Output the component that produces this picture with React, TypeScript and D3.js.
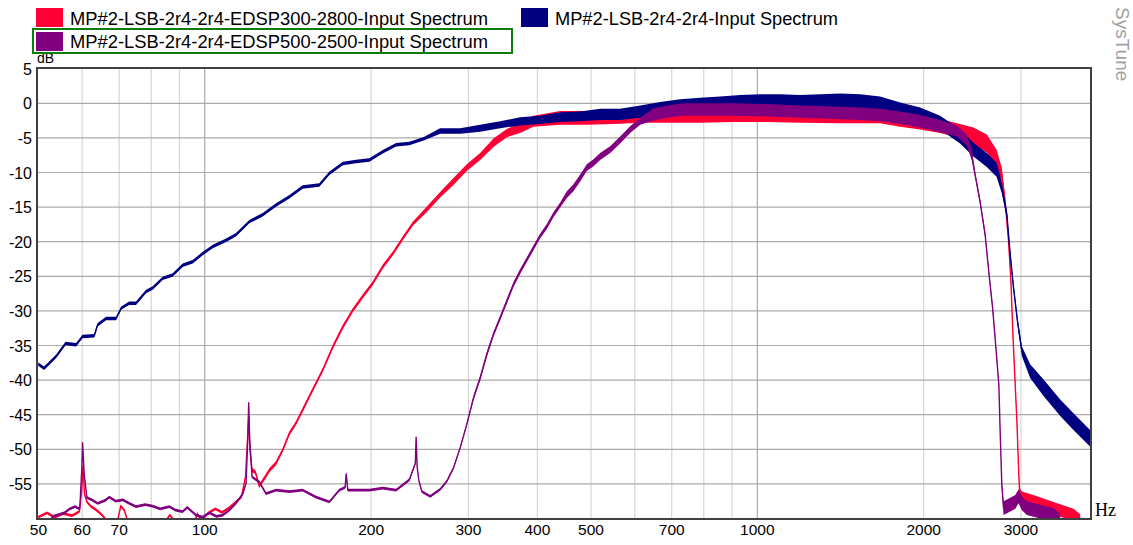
import React from 'react';
import * as d3 from 'd3';

const W = 1133;
const H = 545;

// ---- tick data ----
const yTicks = [5, 0, -5, -10, -15, -20, -25, -30, -35, -40, -45, -50, -55];
const xTickLabels = [50, 60, 70, 100, 200, 300, 400, 500, 700, 1000, 2000, 3000];
const xGridMinor = [60, 70, 80, 90, 200, 300, 400, 500, 600, 700, 800, 900, 2000, 3000];
const xGridMajor = [100, 1000];

// ---- series: MP#2-LSB-2r4-2r4-Input Spectrum (navy) ----
const blueF = [50, 51.2, 53.8, 56.0, 58.5, 60.1, 63.1, 64.0, 66.3, 69.1, 70.6, 73.0, 75.1, 78.3, 80.5, 83.9, 87.5, 91.2, 95.1, 99.2,
  103.4, 109.3, 113.9, 120.4, 127.3, 134.6, 142.3, 150.4, 161.2, 168.1, 177.8, 187.9, 198.6, 210.0, 222.0, 234.6, 249.7, 266.7, 289.9, 315.1,
  342.5, 372.2, 404.5, 439.8, 478.0, 519.5, 564.6, 613.9, 667.2, 725.2, 788.5, 857.0, 931.3, 1012, 1100, 1196, 1300, 1413, 1535, 1668,
  1813, 1971, 2142, 2328, 2461, 2602, 2710, 2770, 2829, 2869, 2909, 2957, 3011, 3117, 3296, 3533, 3734, 4000];
const blueDb = [-37.7, -38.3, -36.6, -34.7, -34.9, -33.7, -33.6, -32.0, -31.1, -31.1,
  -29.6, -28.9, -28.9, -27.2, -26.7, -25.3, -24.8, -23.4, -22.9, -21.7,
  -20.7, -19.8, -19.0, -17.1, -16.1, -14.7, -13.5, -12.1, -11.8, -10.1,
  -8.7, -8.4, -8.2, -7.0, -6.0, -5.8, -5.1, -4.0, -4.0, -3.6,
  -3.1, -2.6, -2.4, -2.0, -1.9, -1.6, -1.6, -1.2, -0.7, -0.4,
  -0.2, 0.0, 0.2, 0.3, 0.3, 0.2, 0.3, 0.4, 0.3, 0.0,
  -0.9, -1.6, -2.8, -4.8, -6.7, -8.2, -9.6, -12.2, -16.1, -21.9,
  -26.7, -31.5, -35.8, -38.7, -41.1, -44.0, -46.0, -48.4];
const blueSpread = [0.25, 0.25, 0.25, 0.25, 0.25, 0.25, 0.25, 0.25, 0.25, 0.25,
  0.25, 0.25, 0.25, 0.25, 0.25, 0.25, 0.25, 0.25, 0.25, 0.25,
  0.25, 0.25, 0.25, 0.25, 0.25, 0.25, 0.25, 0.25, 0.25, 0.25,
  0.25, 0.25, 0.25, 0.25, 0.25, 0.25, 0.25, 0.4, 0.4, 0.5,
  0.5, 0.6, 0.6, 0.7, 0.7, 0.8, 0.8, 0.9, 0.9, 1.0,
  1.0, 1.0, 1.0, 1.0, 1.0, 1.0, 1.0, 1.0, 1.0, 1.0,
  1.0, 1.0, 1.0, 1.0, 1.0, 1.0, 1.0, 0.8, 0.6, 0.5,
  0.5, 0.5, 0.7, 1.0, 1.2, 1.2, 1.2, 1.2];

// ---- series: EDSP300-2800 (red) ----
const redF = [50, 51.8, 53.5, 55.5, 57.5, 59.3, 59.9, 60.2, 60.6, 61.2,
  62.3, 63.5, 65.0, 66.5, 69.5, 70.5, 71.5, 72.5, 85.0, 86.5,
  88.0, 96.0, 97.0, 98.5, 101.5, 104.5, 107.5, 110.5, 113.9, 116.5,
  118.5, 119.6, 120.1, 120.7, 121.8, 123.5, 125.5, 127.5, 131.0, 134.6,
  138.4, 142.3, 146.3, 150.4, 156.8, 163.6, 170.5, 177.8, 185.3, 193.2,
  201.4, 210.0, 219.0, 228.3, 238.0, 252.3, 266.7, 281.9, 298.0, 315.1,
  333.0, 352.1, 372.2, 393.4, 439.8, 491.4, 549.2, 613.9, 686.0, 788.5,
  905.8, 1041, 1196, 1413, 1668, 1813, 1971, 2142, 2328, 2461,
  2602, 2710, 2770, 2809, 2849, 2877, 2901, 2929, 2950, 2970,
  2983, 3011, 3160, 3436, 3734, 3840];
const redDb = [-59.8, -59.2, -59.8, -59.3, -59.6, -59.0, -56.0, -52.4, -56.5, -57.6,
  -58.3, -58.7, -59.4, -60.3, -60.3, -58.2, -58.8, -60.3, -60.3, -59.5,
  -60.3, -60.3, -59.3, -60.3, -59.2, -58.6, -59.1, -58.5, -57.6, -56.9,
  -54.0, -48.0, -45.3, -50.0, -53.0, -53.3, -55.3, -54.5, -53.0, -52.0,
  -50.1, -47.7, -46.2, -44.3, -41.4, -38.5, -35.2, -32.3, -29.9, -27.9,
  -26.0, -23.6, -21.7, -19.5, -17.4, -15.3, -13.2, -11.3, -9.3, -7.7,
  -5.7, -4.3, -3.6, -2.6, -2.1, -2.1, -2.0, -1.8, -1.8, -1.8,
  -1.7, -1.7, -1.8, -1.9, -1.9, -2.4, -2.8, -3.3, -4.0, -4.7,
  -5.8, -8.0, -10.3, -14.2, -19.9, -25.7, -33.4, -40.7, -46.0, -52.7,
  -56.1, -57.0, -57.5, -58.5, -59.5, -60.3];
const redSpread = [0.2, 0.2, 0.2, 0.2, 0.2, 0.2, 0.2, 0.2, 0.2, 0.2,
  0.2, 0.2, 0.2, 0.2, 0.2, 0.2, 0.2, 0.2, 0.2, 0.2,
  0.2, 0.2, 0.2, 0.2, 0.2, 0.2, 0.2, 0.2, 0.2, 0.2,
  0.2, 0.2, 0.2, 0.2, 0.3, 0.3, 0.3, 0.3, 0.3, 0.3,
  0.3, 0.3, 0.3, 0.3, 0.3, 0.3, 0.3, 0.3, 0.3, 0.3,
  0.3, 0.3, 0.3, 0.3, 0.3, 0.4, 0.4, 0.5, 0.5, 0.5,
  0.6, 0.6, 0.7, 0.8, 1.0, 1.0, 1.0, 1.0, 1.0, 1.0,
  1.0, 1.0, 1.0, 1.0, 1.0, 1.0, 1.0, 1.0, 1.0, 1.2,
  1.3, 1.3, 1.0, 0.5, 0.5, 0.5, 0.5, 0.5, 0.5, 0.5,
  0.5, 0.9, 0.9, 0.9, 0.9, 0.9];

// ---- series: EDSP500-2500 (purple) ----
const purpleF = [50, 52.5, 53.1, 55.7, 57.0, 58.2, 59.4, 59.9, 60.1, 60.5,
  61.2, 62.5, 64.0, 66.0, 67.2, 69.0, 71.1, 73.0, 75.1, 78.0,
  80.5, 83.0, 86.3, 88.5, 91.2, 93.0, 96.4, 99.0, 102.0, 105.0,
  107.8, 110.8, 113.9, 117.2, 118.8, 119.7, 120.1, 120.6, 121.8, 125.5,
  129.1, 134.6, 142.3, 150.4, 159.0, 168.1, 175.2, 179.5, 180.3, 181.5,
  187.9, 198.6, 210.0, 222.0, 234.6, 240.5, 241.3, 242.3, 244.0, 247.1,
  255.9, 266.7, 274.3, 281.9, 289.9, 298.0, 306.4, 315.1, 323.9, 333.0,
  342.5, 352.1, 362.0, 372.2, 382.7, 393.4, 404.5, 416.0, 427.6, 439.8,
  452.2, 464.8, 478.0, 491.4, 505.3, 519.5, 541.6, 564.6, 588.6, 613.9,
  648.9, 686.0, 735.3, 788.5, 905.8, 1041, 1196, 1300, 1413, 1535,
  1668, 1813, 1971, 2142, 2296, 2393, 2443, 2478, 2530, 2584,
  2627, 2666, 2703, 2736, 2752, 2770, 2790, 2869, 2930, 2970,
  3011, 3075, 3250, 3436, 3533];
const purpleDb = [-60.3, -60.3, -59.7, -59.2, -58.6, -58.3, -58.6, -53.0, -49.0, -53.5,
  -57.0, -57.3, -57.8, -57.4, -56.9, -57.5, -57.3, -57.8, -58.3, -58.0,
  -58.2, -58.6, -58.3, -58.8, -59.0, -58.4, -59.5, -59.8, -59.2, -59.7,
  -59.5, -58.8, -57.8, -56.4, -54.9, -48.0, -43.2, -48.5, -54.0, -54.7,
  -56.4, -55.9, -56.1, -55.9, -56.9, -57.6, -55.9, -55.5, -53.5, -55.9,
  -55.9, -55.9, -55.6, -55.9, -54.4, -52.0, -48.2, -52.5, -54.5, -56.1,
  -56.8, -55.8, -54.6, -52.7, -49.8, -46.4, -42.6, -39.7, -36.3, -33.4,
  -31.0, -28.6, -26.2, -24.3, -22.6, -20.9, -19.2, -17.8, -16.1, -14.7,
  -13.2, -12.2, -10.8, -9.3, -8.6, -7.7, -6.7, -5.3, -3.8, -2.6,
  -1.6, -1.2, -0.9, -0.9, -0.9, -1.0, -1.2, -1.3, -1.4, -1.5,
  -1.7, -2.1, -2.6, -3.3, -4.0, -5.3, -7.4, -10.3, -14.2, -19.0,
  -24.8, -29.6, -35.4, -40.7, -47.9, -55.1, -58.5, -58.0, -57.6, -56.8,
  -57.8, -58.5, -59.0, -59.5, -60.3];
const purpleSpread = [0.2, 0.2, 0.2, 0.2, 0.2, 0.2, 0.2, 0.2, 0.2, 0.2,
  0.2, 0.2, 0.2, 0.2, 0.2, 0.2, 0.2, 0.2, 0.2, 0.2,
  0.2, 0.2, 0.2, 0.2, 0.2, 0.2, 0.2, 0.2, 0.2, 0.2,
  0.2, 0.2, 0.2, 0.2, 0.2, 0.2, 0.2, 0.2, 0.2, 0.2,
  0.2, 0.2, 0.2, 0.2, 0.2, 0.2, 0.2, 0.2, 0.2, 0.2,
  0.2, 0.2, 0.2, 0.2, 0.2, 0.2, 0.2, 0.2, 0.2, 0.2,
  0.2, 0.2, 0.2, 0.2, 0.2, 0.2, 0.35, 0.35, 0.35, 0.35,
  0.35, 0.35, 0.35, 0.35, 0.35, 0.35, 0.35, 0.35, 0.35, 0.35,
  0.5, 0.5, 0.5, 0.5, 0.5, 0.5, 0.5, 0.5, 0.5, 0.5,
  0.9, 0.9, 0.9, 0.9, 0.9, 0.9, 0.9, 0.9, 0.9, 0.9,
  0.9, 0.9, 0.9, 0.9, 0.8, 0.8, 0.8, 0.4, 0.4, 0.4,
  0.4, 0.4, 0.4, 0.4, 0.4, 0.4, 1.0, 1.0, 1.0, 1.0,
  1.0, 1.0, 1.0, 1.0, 1.0];

const RED = '#ff0036';
const NAVY = '#000080';
const PURPLE = '#800080';

const legendLabels = [
  'MP#2-LSB-2r4-2r4-EDSP300-2800-Input Spectrum',
  'MP#2-LSB-2r4-2r4-Input Spectrum',
  'MP#2-LSB-2r4-2r4-EDSP500-2500-Input Spectrum',
];

type Pt = { f: number; db: number; s: number };

export default function App() {
  const x = d3.scaleLog().domain([50, 4000]).range([38.4, 1090]);
  const y = d3.scaleLinear().domain([-60, 5]).range([518.5, 68.7]);

  const mk = (F: number[], D: number[], S: number[]): Pt[] => F.map((f, i) => ({ f, db: D[i], s: S[i] }));
  const series = [
    { pts: mk(redF, redDb, redSpread), color: RED },
    { pts: mk(blueF, blueDb, blueSpread), color: NAVY },
    { pts: mk(purpleF, purpleDb, purpleSpread), color: PURPLE },
  ];
  const area = d3.area<Pt>().x(d => x(d.f)).y0(d => y(d.db - d.s)).y1(d => y(d.db + d.s));
  const line = d3.line<Pt>().x(d => x(d.f)).y(d => y(d.db));

  const font = '"Liberation Sans", Arial, sans-serif';
  const left = 37, top = 68, right = 1091, bottom = 519;

  return (
    <svg width={W} height={H} style={{ position: 'fixed', left: 0, top: 0, background: '#fff' }}>
      <rect x={0} y={0} width={W} height={H} fill="#fff" />
      <defs>
        <clipPath id="plotClip">
          <rect x={left} y={top} width={right - left} height={bottom - top} />
        </clipPath>
      </defs>
      {/* grid */}
      {xGridMinor.map(v => (
        <line key={'gm' + v} x1={x(v)} x2={x(v)} y1={top} y2={bottom} stroke="#d6d6d6" strokeWidth={1.2} />
      ))}
      {yTicks.slice(1).map(v => (
        <line key={'gy' + v} x1={left} x2={right} y1={y(v)} y2={y(v)} stroke="#ababab" strokeWidth={1.2} />
      ))}
      {xGridMajor.map(v => (
        <line key={'gM' + v} x1={x(v)} x2={x(v)} y1={top} y2={bottom} stroke="#a8a8a8" strokeWidth={1.2} />
      ))}
      {/* series */}
      <g clipPath="url(#plotClip)">
        {series.map((s, i) => (
          <g key={i}>
            <path d={area(s.pts) || ''} fill={s.color} stroke="none" />
            <path d={line(s.pts) || ''} fill="none" stroke={s.color} strokeWidth={1.4} strokeLinejoin="miter" />
          </g>
        ))}
      </g>
      {/* border */}
      <rect x={left} y={top} width={right - left} height={bottom - top} fill="none" stroke="#404040" strokeWidth={2} />
      {/* y tick labels */}
      {yTicks.map(v => (
        <text key={'yl' + v} x={32} y={y(v) + 6} textAnchor="end" fontFamily={font} fontSize={16} fill="#000">{v}</text>
      ))}
      {/* x tick labels */}
      {xTickLabels.map(v => (
        <text key={'xl' + v} x={x(v)} y={535} textAnchor="middle" fontFamily={font} fontSize={15.5} fill="#000">{v}</text>
      ))}
      <text x={37} y={62.5} fontFamily={font} fontSize={14} fill="#000">dB</text>
      <text x={1095} y={516} fontFamily='"Liberation Serif", "Times New Roman", serif' fontSize={18} fill="#000">Hz</text>
      {/* legend */}
      <rect x={36} y={8} width={27} height={19} fill={RED} />
      <text x={70} y={25} fontFamily={font} fontSize={18} textLength={418} lengthAdjust="spacingAndGlyphs" fill="#000">{legendLabels[0]}</text>
      <rect x={521} y={8} width={27} height={19} fill={NAVY} />
      <text x={555} y={25} fontFamily={font} fontSize={18} textLength={283} lengthAdjust="spacingAndGlyphs" fill="#000">{legendLabels[1]}</text>
      <rect x={36} y={32} width={27} height={19} fill={PURPLE} />
      <text x={70} y={48} fontFamily={font} fontSize={18} textLength={418} lengthAdjust="spacingAndGlyphs" fill="#000">{legendLabels[2]}</text>
      <rect x={33} y={29} width={479} height={24} fill="none" stroke="#0a7d0a" strokeWidth={2} />
      {/* watermark */}
      <text transform="translate(1116,7) rotate(90)" fontFamily={font} fontSize={19} fill="#a0a0a0">SysTune</text>
    </svg>
  );
}
